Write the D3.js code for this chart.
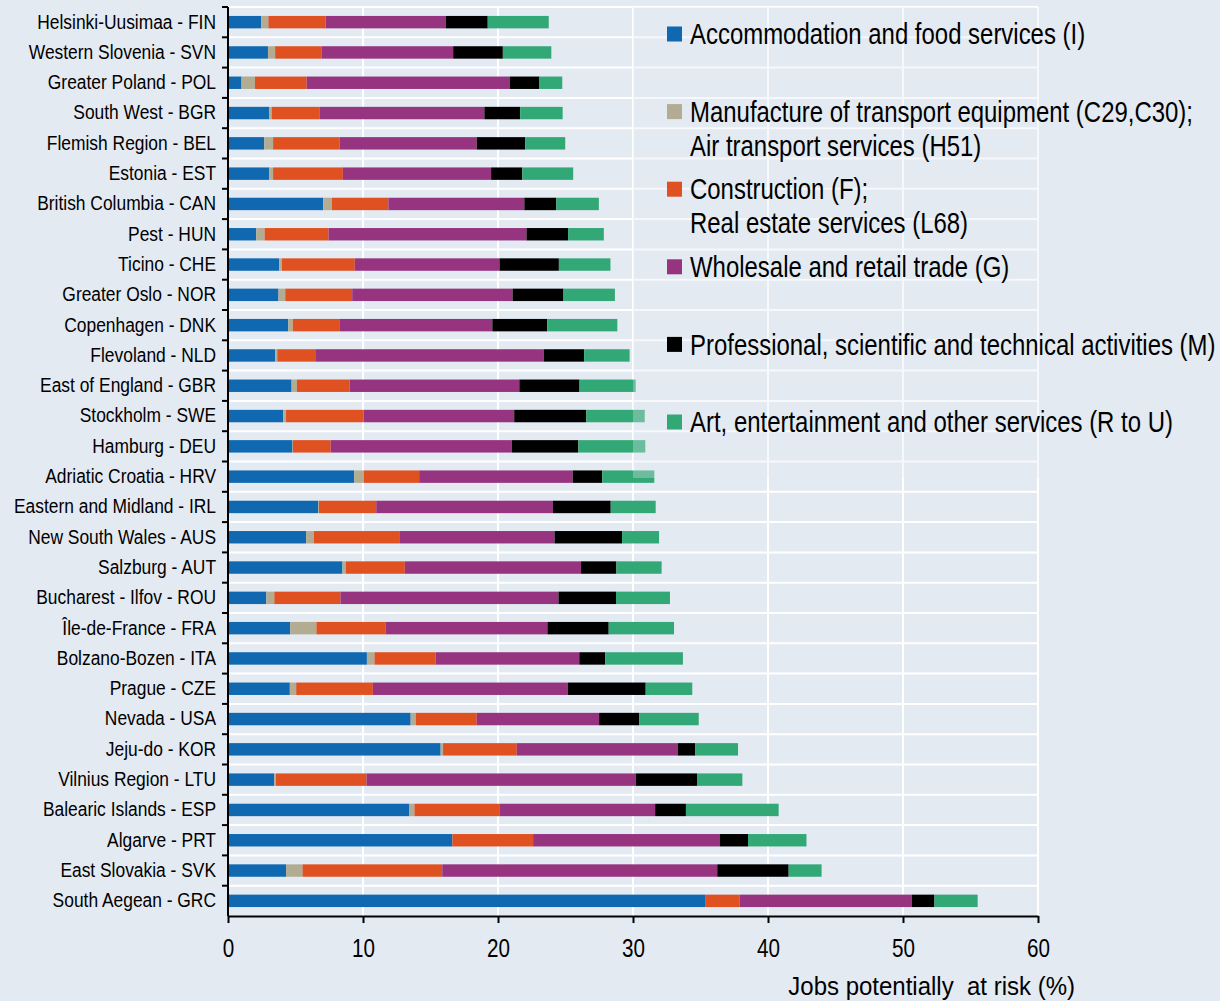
<!DOCTYPE html>
<html>
<head>
	<title>Jobs potentially at risk</title>
	<meta charset="UTF-8">
	<style>
		body { margin: 0; background: #e4eaf2; }
		svg { display: block; font-family: "Liberation Sans", Arial, sans-serif; }
		.grid line { stroke: #fff; stroke-width: 2; }
		.axis path, .axis line { stroke: #000; stroke-width: 2; }
		.axis text { fill: #000; }
	</style>
</head>
<body>
</body>
<script src="https://d3js.org/d3.v7.min.js"></script>
<script type="text/javascript">

'use strict';

// regions, top to bottom
var regions = [
	"Helsinki-Uusimaa - FIN", "Western Slovenia - SVN", "Greater Poland - POL", "South West - BGR",
	"Flemish Region - BEL", "Estonia - EST", "British Columbia - CAN", "Pest - HUN", "Ticino - CHE",
	"Greater Oslo - NOR", "Copenhagen - DNK", "Flevoland - NLD", "East of England - GBR",
	"Stockholm - SWE", "Hamburg - DEU", "Adriatic Croatia - HRV", "Eastern and Midland - IRL",
	"New South Wales - AUS", "Salzburg - AUT", "Bucharest - Ilfov - ROU", "Île-de-France - FRA",
	"Bolzano-Bozen - ITA", "Prague - CZE", "Nevada - USA", "Jeju-do - KOR", "Vilnius Region - LTU",
	"Balearic Islands - ESP", "Algarve - PRT", "East Slovakia - SVK", "South Aegean - GRC"
];

var accommodation = [2.46, 2.96, 1.00, 3.06, 2.68, 3.06, 7.05, 2.09, 3.80, 3.74, 4.46, 3.49, 4.71, 4.08, 4.77,
	9.35, 6.67, 5.79, 8.48, 2.84, 4.61, 10.29, 4.58, 13.53, 15.75, 3.43, 13.44, 16.62, 4.30, 35.34];
var transport = [0.53, 0.53, 1.00, 0.18, 0.66, 0.28, 0.65, 0.62, 0.19, 0.50, 0.34, 0.16, 0.40, 0.22, 0.03,
	0.72, 0.07, 0.57, 0.25, 0.59, 1.94, 0.56, 0.47, 0.38, 0.18, 0.12, 0.37, 0.00, 1.22, 0.00];
var construction = [4.24, 3.43, 3.83, 3.56, 4.92, 5.17, 4.18, 4.74, 5.40, 4.96, 3.49, 2.87, 3.90, 5.74, 2.81,
	4.09, 4.24, 6.33, 4.37, 4.90, 5.14, 4.52, 5.68, 4.52, 5.46, 6.71, 6.33, 5.98, 10.35, 2.55];
var wholesale = [8.92, 9.76, 15.06, 12.19, 10.17, 10.98, 10.07, 14.66, 10.72, 11.88, 11.29, 16.87, 12.57, 11.16, 13.41,
	11.38, 13.09, 11.50, 13.05, 16.15, 11.97, 10.65, 14.44, 9.06, 11.94, 19.96, 11.50, 13.84, 20.37, 12.77];
var professional = [3.09, 3.68, 2.18, 2.65, 3.58, 2.31, 2.37, 3.08, 4.40, 3.77, 4.06, 2.99, 4.46, 5.34, 4.93,
	2.18, 4.28, 5.00, 2.62, 4.26, 4.54, 1.93, 5.77, 2.96, 1.29, 4.52, 2.28, 2.08, 5.29, 1.67];
var art = [4.52, 3.59, 1.69, 3.15, 2.97, 3.77, 3.15, 2.65, 3.82, 3.81, 5.20, 3.37, 4.16, 4.33, 4.96,
	3.86, 3.33, 2.74, 3.35, 4.00, 4.84, 5.75, 3.45, 4.42, 3.16, 3.36, 6.87, 4.33, 2.44, 3.20];

var seriesNames = [
	["Accommodation and food services (I)"],
	["Manufacture of transport equipment (C29,C30);", "Air transport services (H51)"],
	["Construction (F);", "Real estate services (L68)"],
	["Wholesale and retail trade (G)"],
	["Professional, scientific and technical activities (M)"],
	["Art, entertainment and other services (R to U)"]
];
var seriesValues = [accommodation, transport, construction, wholesale, professional, art];
var colors = ["#1068b0", "#b2ac92", "#e05121", "#963480", "#000000", "#33a877"];
var xTicks = [0, 10, 20, 30, 40, 50, 60];

var width = 1220, height = 1001;
var margin = {top: 7, right: 182, bottom: 85, left: 228};
var narrow = 0.826; // no narrow face installed, so squeeze the regular one
var labelNarrow = 0.87;

var svg = d3.select("body").append("svg")
	.attr("width", width)
	.attr("height", height);

var x = d3.scaleLinear()
	.domain([0, 60])
	.range([margin.left, width - margin.right]);

var y = d3.scaleBand()
	.domain(regions)
	.range([margin.top, height - margin.bottom])
	.paddingInner(0.59)
	.paddingOuter(0.295);

var step = y.step();
var plotTop = margin.top, plotBottom = height - margin.bottom;
var bound = function(d){ return y(d) - y.paddingOuter() * step; };

// stacked table
var table = regions.map(function(r, i){
	var row = {region: r};
	seriesValues.forEach(function(s, k){ row["s" + k] = s[i]; });
	return row;
});
var keys = seriesValues.map(function(s, k){ return "s" + k; });
var stacked = d3.stack().keys(keys)(table);

// grid
var grid = svg.append("g").attr("class", "grid");
grid.selectAll(".hline")
	.data(regions)
	.enter().append("line")
		.attr("x1", x(0)).attr("x2", x(60))
		.attr("y1", bound)
		.attr("y2", bound);
grid.selectAll(".vline")
	.data(xTicks.slice(1))
	.enter().append("line")
		.attr("x1", function(d){ return x(d); }).attr("x2", function(d){ return x(d); })
		.attr("y1", plotTop).attr("y2", plotBottom);

// bars
svg.append("g").selectAll("g")
	.data(stacked)
	.enter().append("g")
		.attr("fill", function(d, k){ return colors[k]; })
	.selectAll("rect")
		.data(function(d){ return d; })
	.enter().append("rect")
		.attr("x", function(d){ return x(d[0]); })
		.attr("y", function(d){ return y(d.data.region); })
		.attr("width", function(d){ return Math.max(0, x(d[1]) - x(d[0])); })
		.attr("height", y.bandwidth());

// legend with a faint backing
var legend = svg.append("g");
legend.append("rect")
	.attr("x", x(30))
	.attr("y", plotTop)
	.attr("width", width - x(30))
	.attr("height", 471)
	.attr("fill", "#e4eaf2")
	.attr("opacity", 0.32);

var item = legend.selectAll(".item")
	.data(seriesNames)
	.enter().append("g")
		.attr("transform", function(d, i){ return "translate(667," + (34 + i * 77.6) + ")"; });
item.append("rect")
	.attr("y", -7.5)
	.attr("width", 15)
	.attr("height", 15)
	.attr("fill", function(d, i){ return colors[i]; });
item.selectAll("text")
	.data(function(d){ return d; })
	.enter().append("text")
		.attr("transform", function(d, j){ return "translate(23," + (j * 34) + ") scale(" + narrow + ",1)"; })
		.attr("dy", "0.35em")
		.attr("font-size", 29)
		.text(function(d){ return d; });

// y axis
var yAxis = svg.append("g")
	.attr("class", "axis")
	.attr("transform", "translate(" + x(0) + ",0)")
	.call(d3.axisLeft(y).tickSize(0).tickPadding(12));
yAxis.select(".domain").attr("d", "M0," + plotTop + "V" + plotBottom);
yAxis.selectAll("text")
	.attr("font-size", 20)
	.attr("x", -12 / labelNarrow)
	.attr("transform", "scale(" + labelNarrow + ",1)");
yAxis.selectAll(".bound")
	.data(regions)
	.enter().append("line")
		.attr("x1", -6).attr("x2", 0)
		.attr("y1", bound)
		.attr("y2", bound);

// x axis
var xAxis = svg.append("g")
	.attr("class", "axis")
	.attr("transform", "translate(0," + plotBottom + ")")
	.call(d3.axisBottom(x).tickValues(xTicks).tickSize(7).tickPadding(16).tickSizeOuter(0));
xAxis.selectAll("text")
	.attr("font-size", 25)
	.attr("transform", "scale(" + narrow + ",1)");

svg.append("text")
	.attr("transform", "translate(1075,995) scale(0.96,1)")
	.attr("text-anchor", "end")
	.attr("font-size", 25)
	.style("white-space", "pre")
	.text("Jobs potentially  at risk (%)");

</script>
</html>
